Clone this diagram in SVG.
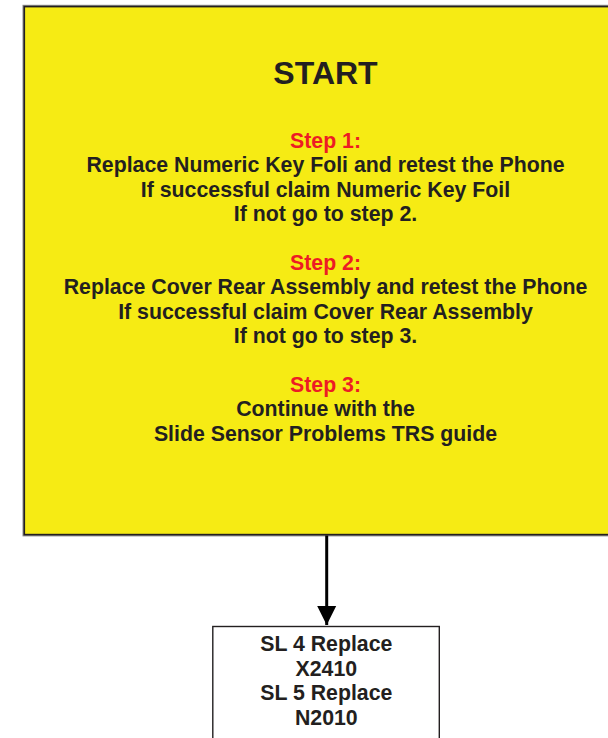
<svg xmlns="http://www.w3.org/2000/svg" width="608" height="738" viewBox="0 0 608 738">
<style>
.t{font-family:"Liberation Sans",Arial,sans-serif;font-weight:bold;fill:#231F20;text-anchor:middle;font-size:21.3px}
.r{fill:#ED1C24}
.h{font-size:32px}
.shadow{fill:none;stroke:#8a8a8a;stroke-width:3.6}
.edge{stroke:#231F20;stroke-width:1.6}
</style>
<defs>
<marker id="ah" markerUnits="userSpaceOnUse" markerWidth="20" markerHeight="20" refX="19" refY="9.5" orient="auto" viewBox="0 0 20 19">
<path d="M0,0 L19,9.5 L0,19 Z" fill="#000"/>
</marker>
</defs>
<g id="start">
<rect class="shadow" x="24.3" y="6.6" width="602" height="528"/>
<rect class="edge" x="24.3" y="6.6" width="602" height="528" fill="#F6EB14"/>
<text class="t h" x="325.5" y="83.5">START</text>
<text class="t r" x="325.5" y="148">Step 1:</text>
<text class="t" x="325.5" y="172.4">Replace Numeric Key Foli and retest the Phone</text>
<text class="t" x="325.5" y="196.8">If successful claim Numeric Key Foil</text>
<text class="t" x="325.5" y="221.2">If not go to step 2.</text>
<text class="t r" x="325.5" y="270">Step 2:</text>
<text class="t" x="325.5" y="294.4">Replace Cover Rear Assembly and retest the Phone</text>
<text class="t" x="325.5" y="318.8">If successful claim Cover Rear Assembly</text>
<text class="t" x="325.5" y="343.2">If not go to step 3.</text>
<text class="t r" x="325.5" y="392">Step 3:</text>
<text class="t" x="325.5" y="416.4">Continue with the</text>
<text class="t" x="325.5" y="440.8">Slide Sensor Problems TRS guide</text>
</g>
<g id="connectors">
<line x1="326.7" y1="535.5" x2="326.7" y2="625" stroke="#000" stroke-width="3" marker-end="url(#ah)"/>
</g>
<g id="sl">
<rect x="212.8" y="626.5" width="226.5" height="120" fill="#fff" stroke="#231F20" stroke-width="1.4"/>
<text class="t" x="326.3" y="651">SL 4 Replace</text>
<text class="t" x="326.3" y="675.5">X2410</text>
<text class="t" x="326.3" y="700">SL 5 Replace</text>
<text class="t" x="326.3" y="724.5">N2010</text>
</g>
</svg>
